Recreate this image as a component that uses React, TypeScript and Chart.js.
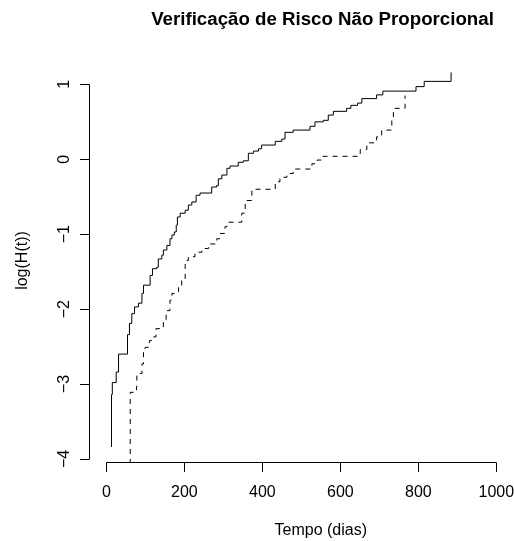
import React, { useEffect, useRef } from "react";
import { Chart, registerables } from "chart.js";

Chart.register(...registerables);

// Solid curve (group 1): event times (days) and log cumulative hazard after each jump
const solidTimes = [13, 13, 15, 25, 31, 54, 59, 65, 72, 82, 91, 95, 112, 118, 129, 133, 142, 146, 155, 163, 168, 174, 179, 182, 189, 202, 210, 219, 230, 240, 270, 283, 287, 296, 309, 317, 338, 351, 364, 377, 390, 398, 433, 450, 458, 479, 522, 535, 556, 569, 582, 616, 627, 644, 655, 693, 709, 794, 815, 884];
const solidValues = [-3.84, -3.14, -2.98, -2.84, -2.6, -2.34, -2.19, -2.06, -1.97, -1.92, -1.79, -1.68, -1.55, -1.46, -1.44, -1.33, -1.28, -1.21, -1.15, -1.06, -1.01, -0.97, -0.88, -0.77, -0.72, -0.68, -0.61, -0.57, -0.48, -0.45, -0.37, -0.35, -0.26, -0.21, -0.12, -0.09, -0.04, -0.02, 0.08, 0.11, 0.14, 0.19, 0.24, 0.27, 0.36, 0.39, 0.44, 0.5, 0.52, 0.59, 0.64, 0.68, 0.72, 0.75, 0.81, 0.86, 0.91, 0.97, 1.04, 1.16];

// Dashed curve (group 2)
const dashedTimes = [61, 61, 77, 78, 85, 91, 95, 99, 110, 121, 127, 146, 153, 163, 168, 174, 185, 193, 202, 210, 227, 245, 262, 283, 292, 304, 309, 347, 356, 373, 433, 445, 463, 479, 527, 540, 552, 651, 668, 693, 706, 732, 736, 766];
const dashedValues = [-4.6, -3.11, -3.04, -2.88, -2.86, -2.73, -2.55, -2.51, -2.42, -2.37, -2.26, -2.15, -2.02, -1.88, -1.79, -1.77, -1.7, -1.62, -1.35, -1.3, -1.24, -1.19, -1.13, -1.06, -0.99, -0.9, -0.84, -0.72, -0.55, -0.4, -0.3, -0.24, -0.19, -0.13, -0.06, -0.01, 0.04, 0.13, 0.22, 0.3, 0.39, 0.52, 0.68, 0.85];

const xTicks = [0, 200, 400, 600, 800, 1000];
const xTickLabels = ["0", "200", "400", "600", "800", "1000"];
const yTicks = [-4, -3, -2, -1, 0, 1];
const yTickLabels = ["\u22124", "\u22123", "\u22122", "\u22121", "0", "1"];

const titleText = "Verificação de Risco Não Proporcional";
const xLabelText = "Tempo (dias)";
const yLabelText = "log(H(t))";

const FONT = '"Liberation Sans", Arial, Helvetica, sans-serif';

const rAxesPlugin = {
  id: "rAxes",
  afterDraw(chart: any) {
    const { ctx, chartArea } = chart;
    const xs = chart.scales.x;
    const ys = chart.scales.y;
    ctx.save();
    ctx.strokeStyle = "#000";
    ctx.fillStyle = "#000";
    ctx.lineWidth = 1;
    const tickLen = 9.4;

    // x axis
    const yb = Math.round(chartArea.bottom) + 0.5;
    const x0 = xs.getPixelForValue(xTicks[0]);
    const x1 = xs.getPixelForValue(xTicks[xTicks.length - 1]);
    ctx.beginPath();
    ctx.moveTo(x0, yb);
    ctx.lineTo(x1, yb);
    xTicks.forEach((t) => {
      const px = Math.round(xs.getPixelForValue(t)) + 0.5;
      ctx.moveTo(px, yb);
      ctx.lineTo(px, yb + tickLen);
    });
    ctx.stroke();
    ctx.font = `16px ${FONT}`;
    ctx.textAlign = "center";
    ctx.textBaseline = "alphabetic";
    xTicks.forEach((t, i) => {
      ctx.fillText(xTickLabels[i], xs.getPixelForValue(t), 497);
    });

    // y axis
    const xl = Math.round(chartArea.left) + 0.5;
    const yA = ys.getPixelForValue(yTicks[0]);
    const yB = ys.getPixelForValue(yTicks[yTicks.length - 1]);
    ctx.beginPath();
    ctx.moveTo(xl, yA);
    ctx.lineTo(xl, yB);
    yTicks.forEach((t) => {
      const py = Math.round(ys.getPixelForValue(t)) + 0.5;
      ctx.moveTo(xl, py);
      ctx.lineTo(xl - tickLen, py);
    });
    ctx.stroke();
    yTicks.forEach((t, i) => {
      ctx.save();
      ctx.translate(68.5, ys.getPixelForValue(t));
      ctx.rotate(-Math.PI / 2);
      ctx.fillText(yTickLabels[i], 0, 0);
      ctx.restore();
    });

    // axis titles
    ctx.fillText(xLabelText, 320.8, 534.5);
    ctx.save();
    ctx.translate(27, 260.5);
    ctx.rotate(-Math.PI / 2);
    ctx.fillText(yLabelText, 0, 0);
    ctx.restore();

    // main title
    ctx.font = `bold 18.7px ${FONT}`;
    ctx.fillText(titleText, 322.5, 25);
    ctx.restore();
  },
};

export default function App() {
  const canvasRef = useRef<HTMLCanvasElement | null>(null);

  useEffect(() => {
    const canvas = canvasRef.current;
    if (!canvas) return;
    const solidData = solidTimes.map((t, i) => ({ x: t, y: solidValues[i] }));
    const dashedData = dashedTimes.map((t, i) => ({ x: t, y: dashedValues[i] }));
    const chart = new Chart(canvas, {
      type: "line",
      data: {
        datasets: [
          {
            label: "Grupo 1",
            data: solidData,
            borderColor: "#000",
            borderWidth: 1,
            pointRadius: 0,
            fill: false,
            stepped: "before",
            tension: 0,
          },
          {
            label: "Grupo 2",
            data: dashedData,
            borderColor: "#000",
            borderWidth: 1,
            borderDash: [5, 5],
            pointRadius: 0,
            fill: false,
            stepped: "before",
            tension: 0,
          },
        ],
      },
      options: {
        animation: false,
        responsive: false,
        devicePixelRatio: 1,
        events: [],
        layout: { padding: { left: 89.3, top: 57.4, right: 0, bottom: 79 } },
        plugins: {
          legend: { display: false },
          tooltip: { enabled: false },
          title: { display: false },
        },
        scales: {
          x: { type: "linear", min: -44, max: 1045.4, display: false },
          y: { type: "linear", min: -4.04, max: 1.36, display: false },
        },
      },
      plugins: [rAxesPlugin],
    });
    return () => chart.destroy();
  }, []);

  return (
    <div style={{ position: "fixed", left: 0, top: 0, width: 514, height: 541, background: "#fff" }}>
      <canvas ref={canvasRef} width={514} height={541} style={{ display: "block" }} />
    </div>
  );
}
